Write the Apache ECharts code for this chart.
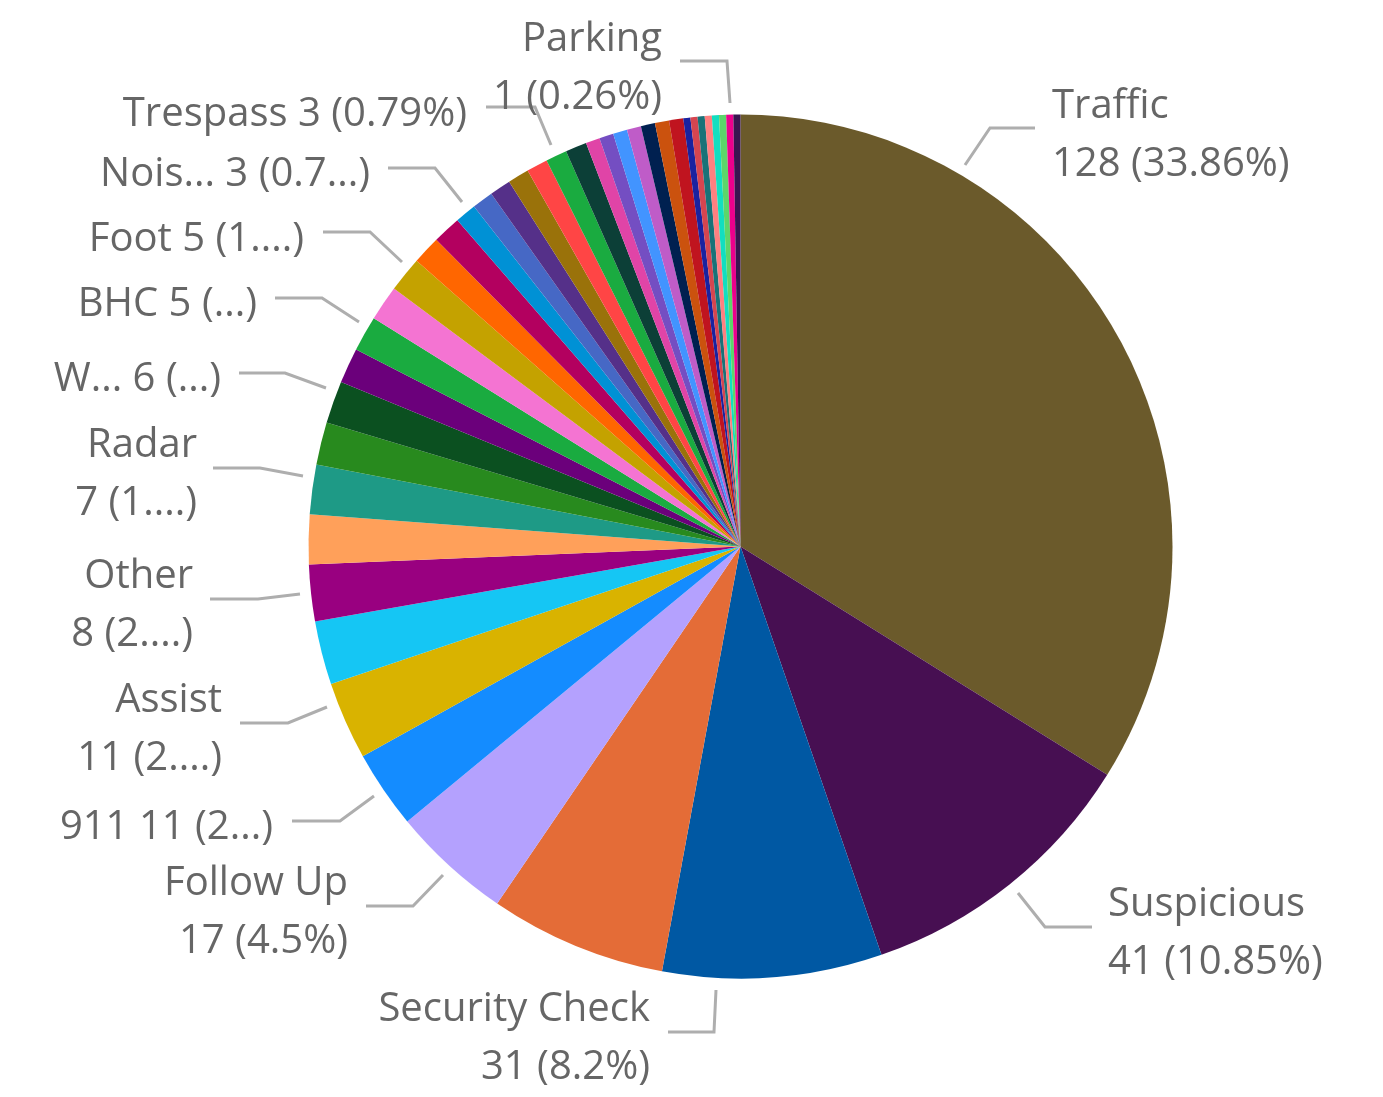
<!DOCTYPE html>
<html>
<head>
<meta charset="utf-8">
<style>
  html, body { margin: 0; padding: 0; background: #ffffff; }
  #chart { width: 1383px; height: 1097px; }
</style>
<script src="https://cdn.jsdelivr.net/npm/echarts@6/dist/echarts.min.js"></script>
</head>
<body>
<div id="chart"></div>
<script>
// ---- data (sorted as drawn clockwise from 12 o'clock) ----
const categories = [
  'Traffic', 'Suspicious', 'Security Check', 'Property Check', 'Follow Up',
  '911', 'Assist', 'Escort', 'Other', 'Medical', 'Radar',
  'Disturbance', 'Welfare Check', 'Alarm', 'BHC', 'Civil', 'Foot',
  'Accident', 'Domestic',
  'Noise', 'Open Door', 'Panic Alarm', 'Property Damage', 'Prowler', 'Trespass', 'Vandalism',
  'Animal', 'Assault', 'Burglary', 'Fire', 'Fraud', 'Harassment', 'Juvenile',
  'Abandoned Vehicle', 'Drugs', 'Hit and Run', 'Lockout', 'Missing Person', 'Noise Complaint', 'Parking', 'Theft'
];
const counts = [
  128, 41, 31, 25, 17,
  11, 11, 9, 8, 7, 7,
  6, 6, 5, 5, 5, 5,
  4, 4,
  3, 3, 3, 3, 3, 3, 3,
  2, 2, 2, 2, 2, 2, 2,
  1, 1, 1, 1, 1, 1, 1, 1
];
const sliceColors = [
  '#6B5A2B', '#470F52', '#0058A3', '#E46C37', '#B4A1FE',
  '#148CFF', '#D9B300', '#15C6F4', '#990080', '#FFA05A', '#1E9A86',
  '#288A1E', '#0B5020', '#6B007B', '#1AAB40', '#F474D2', '#C4A200',
  '#FF6600', '#B3005F',
  '#0091D5', '#4668C5', '#553089', '#9A720A', '#FF4545', '#1AAB40', '#0C3F37',
  '#E044A7', '#744EC2', '#4294FF', '#BF5CC8', '#002050', '#CB520E', '#C0141F',
  '#1A22A0', '#D64550', '#197278', '#FF8080', '#12DEC0', '#5CD66A', '#EC008C', '#3A1550'
];

// labels that are visible in the reference, and how their text was shortened
const twoLineLabels = ['Traffic', 'Suspicious', 'Security Check', 'Follow Up', 'Assist', 'Other', 'Radar', 'Parking'];
const oneLineLabels = ['911', 'Welfare Check', 'BHC', 'Foot', 'Noise', 'Trespass'];
const shortNames = { 'Welfare Check': 'W...', 'Noise': 'Nois...' };
const shortPercents = {
  'Radar': '1....', 'Other': '2....', 'Assist': '2....', '911': '2...',
  'Welfare Check': '...', 'BHC': '...', 'Foot': '1....', 'Noise': '0.7...'
};

// ---- label placement (layout only) ----
const labelPlacement = {
  'Traffic':        { x: 1052, y: 136, align: 'left',  line: [[965, 165], [990, 128], [1035, 128]] },
  'Suspicious':     { x: 1108, y: 934, align: 'left',  line: [[1018, 893], [1045, 927], [1092, 927]] },
  'Security Check': { x: 650,  y: 1039, align: 'right', line: [[716, 990], [714, 1032], [668, 1032]] },
  'Follow Up':      { x: 348,  y: 913, align: 'right', line: [[443, 875], [413, 906], [366, 906]] },
  '911':            { x: 273,  y: 828, align: 'right', line: [[374, 796], [340, 821], [292, 821]] },
  'Assist':         { x: 222,  y: 730, align: 'right', line: [[327, 707], [288, 723], [240, 723]] },
  'Other':          { x: 193,  y: 606, align: 'right', line: [[300, 594], [258, 599], [210, 599]] },
  'Radar':          { x: 197,  y: 475, align: 'right', line: [[303, 476], [260, 468], [213, 468]] },
  'Welfare Check':  { x: 221,  y: 380, align: 'right', line: [[326, 388], [285, 373], [239, 373]] },
  'BHC':            { x: 257,  y: 305, align: 'right', line: [[359, 322], [322, 298], [275, 298]] },
  'Foot':           { x: 304,  y: 240, align: 'right', line: [[402, 262], [370, 232], [323, 232]] },
  'Noise':          { x: 370,  y: 175, align: 'right', line: [[462, 202], [435, 168], [388, 168]] },
  'Trespass':       { x: 467,  y: 115, align: 'right', line: [[551, 145], [535, 107], [486, 107]] },
  'Parking':        { x: 662,  y: 69,  align: 'right', line: [[730, 103], [727, 61], [680, 61]] }
};

const total = counts.reduce((a, b) => a + b, 0);

function labelText(name, value) {
  const shownName = shortNames[name] || name;
  const pct = shortPercents[name] !== undefined
    ? shortPercents[name]
    : String(+(value / total * 100).toFixed(2)) + '%';
  const valuePart = value + ' (' + pct + ')';
  return twoLineLabels.indexOf(name) >= 0 ? shownName + '\n' + valuePart : shownName + ' ' + valuePart;
}

const pieData = categories.map((name, i) => {
  const shown = twoLineLabels.indexOf(name) >= 0 || oneLineLabels.indexOf(name) >= 0;
  return {
    name: name,
    value: counts[i],
    itemStyle: { color: sliceColors[i] },
    label: { show: shown },
    labelLine: { show: shown }
  };
});

const chart = echarts.init(document.getElementById('chart'), null, { renderer: 'canvas' });
chart.setOption({
  backgroundColor: '#ffffff',
  animation: false,
  series: [{
    type: 'pie',
    center: [740.5, 546.5],
    radius: 432,
    startAngle: 90,
    clockwise: true,
    avoidLabelOverlap: false,
    data: pieData,
    itemStyle: { borderWidth: 0 },
    emphasis: { disabled: true },
    label: {
      position: 'outside',
      color: '#666666',
      fontFamily: '"Segoe UI", "Open Sans", sans-serif',
      fontSize: 40,
      lineHeight: 58,
      formatter: (p) => labelText(p.name, p.value)
    },
    labelLine: {
      lineStyle: { color: '#AEAEAE', width: 3 },
      smooth: false
    },
    labelLayout: function (params) {
      const p = labelPlacement[categories[params.dataIndex]];
      if (!p) return {};
      return {
        x: p.x,
        y: p.y,
        align: p.align,
        verticalAlign: 'middle',
        labelLinePoints: p.line
      };
    }
  }]
});
</script>
</body>
</html>
